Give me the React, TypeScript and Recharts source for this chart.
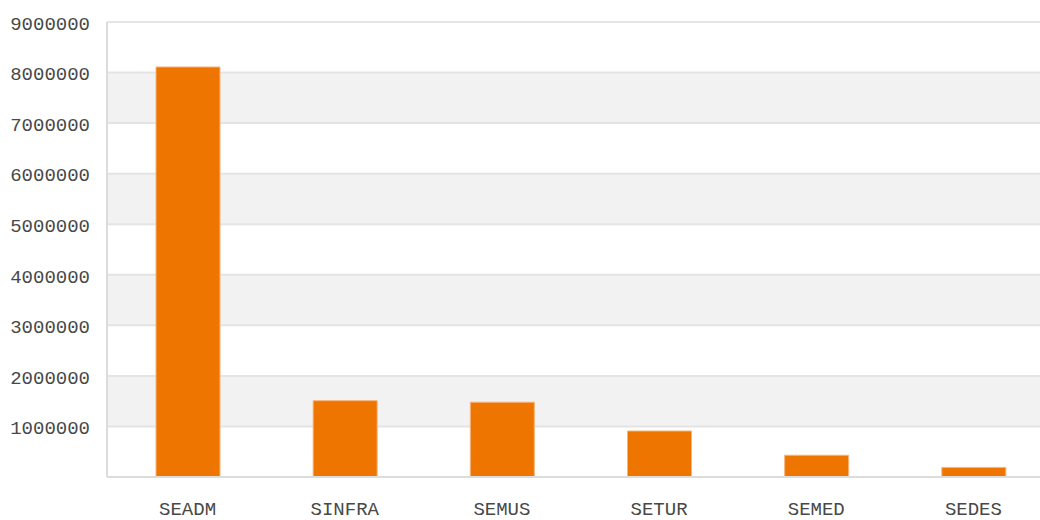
import React from 'react';
import { BarChart, Bar, XAxis, YAxis, CartesianGrid } from 'recharts';

const categories = ['SEADM', 'SINFRA', 'SEMUS', 'SETUR', 'SEMED', 'SEDES'];
const values = [8110000, 1510000, 1480000, 910000, 430000, 190000];
const yTicks = [0, 1000000, 2000000, 3000000, 4000000, 5000000, 6000000, 7000000, 8000000, 9000000];

const data = categories.map((name, i) => ({ name, value: values[i] }));

const font = '"Liberation Mono", monospace';

const App: React.FC = () => {
  return (
    <div
      style={{
        position: 'fixed',
        left: 0,
        top: 0,
        width: 1040,
        height: 520,
        overflow: 'hidden',
        background: '#fff',
      }}
    >
      <BarChart
        width={1040}
        height={520}
        data={data}
        margin={{ top: 22, right: -12, left: 0, bottom: 0 }}
        barCategoryGap={0}
      >
        <CartesianGrid
          vertical={false}
          stroke="#e4e4e4"
          strokeWidth={2}
          horizontalFill={['#ffffff', '#f2f2f2']}
          fillOpacity={1}
        />
        <XAxis
          dataKey="name"
          height={43}
          padding={{ left: 2, right: 0 }}
          axisLine={{ stroke: '#dcdcdc', strokeWidth: 2 }}
          tickLine={false}
          tickSize={6}
          tickMargin={19}
          tick={{ fill: '#484848', fontSize: 19, fontFamily: font }}
          interval={0}
        />
        <YAxis
          width={107}
          domain={[0, 9000000]}
          ticks={yTicks}
          interval={0}
          axisLine={{ stroke: '#dcdcdc', strokeWidth: 2 }}
          tickLine={false}
          tickSize={6}
          tickMargin={11}
          tick={{ fill: '#484848', fontSize: 19, fontFamily: font, dy: 1 }}
          tickFormatter={(v: number) => (v === 0 ? '' : String(v))}
        />
        <Bar
          dataKey="value"
          fill="#ee7600"
          stroke="#f6b47a"
          strokeWidth={1}
          barSize={64}
          isAnimationActive={false}
        />
      </BarChart>
    </div>
  );
};

export default App;
